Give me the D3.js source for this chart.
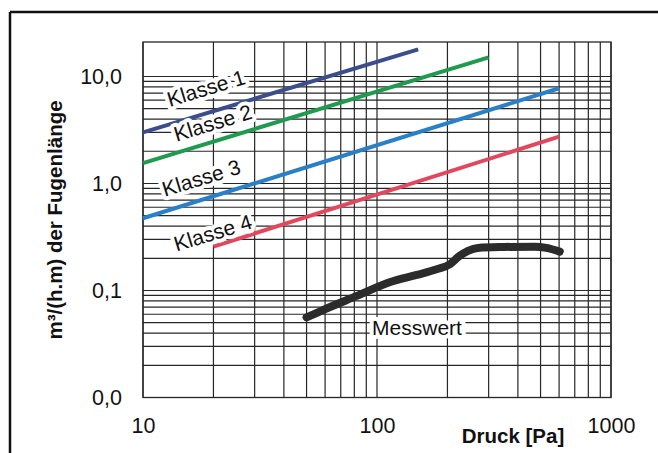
<!DOCTYPE html>
<html>
<head>
<meta charset="utf-8">
<script src="https://cdn.jsdelivr.net/npm/d3@7"></script>
<style>
  html, body { margin: 0; padding: 0; background: #fff; }
  svg { display: block; font-family: "Liberation Sans", Arial, sans-serif; }
</style>
</head>
<body>
<svg id="chart" width="658" height="453"></svg>
<script>
// ---- data ----
const xTickValues = [10, 100, 1000];
const xTickLabels = ["10", "100", "1000"];
const yTickValues = [0.01, 0.1, 1, 10];
const yTickLabels = ["0,0", "0,1", "1,0", "10,0"];

const klasse1 = [[10, 3.0], [150, 17.9]];
const klasse2 = [[10, 1.55], [300, 15.1]];
const klasse3 = [[10, 0.473], [600, 7.76]];
const klasse4 = [[20, 0.257], [600, 2.74]];
const messwert = [[50, 0.056], [59, 0.066], [82, 0.089], [114, 0.12], [148, 0.14], [180, 0.158],
                  [205, 0.176], [225, 0.21], [245, 0.235], [270, 0.25], [350, 0.255],
                  [470, 0.257], [530, 0.25], [604, 0.231]];

const seriesNames = ["Klasse 1", "Klasse 2", "Klasse 3", "Klasse 4"];
const seriesColors = ["#3c4d8c", "#1f9a4e", "#2a80c6", "#e2485d"];
// label anchor (start of baseline) in data units
const labelAnchors = [[13.0, 5.19], [13.9, 2.46], [12.4, 0.753], [13.9, 0.231]];
const messwertLabel = [95.3, 0.0384];
const xTitle = "Druck [Pa]";
const yTitle = "m³/(h.m) der Fugenlänge";

// ---- layout ----
const svg = d3.select("#chart");
const x = d3.scaleLog().domain([10, 1000]).range([143, 611]);
const y = d3.scaleLog().domain([0.01, 21]).range([397.5, 42]);

// outer frame (top and left only)
svg.append("line").attr("x1", 10).attr("x2", 658).attr("y1", 12).attr("y2", 12)
  .attr("stroke", "#111").attr("stroke-width", 2.5);
svg.append("line").attr("x1", 10).attr("x2", 10).attr("y1", 12).attr("y2", 453)
  .attr("stroke", "#111").attr("stroke-width", 2.5);

// grid
const xGrid = [];
for (let d = 10; d < 1000; d *= 10) for (let k = 1; k <= 9; k++) xGrid.push(d * k);
xGrid.push(1000);
const yGrid = [];
for (let d = 0.01; d < 10; d *= 10) for (let k = 1; k <= 9; k++) yGrid.push(+(d * k).toPrecision(3));
yGrid.push(10);

const grid = svg.append("g");
grid.selectAll(".vg").data(xGrid).enter().append("line")
  .attr("x1", d => x(d)).attr("x2", d => x(d))
  .attr("y1", y.range()[1]).attr("y2", y.range()[0])
  .attr("stroke", "#262626").attr("stroke-width", 1.2);
grid.selectAll(".hg").data(yGrid).enter().append("line")
  .attr("x1", x.range()[0]).attr("x2", x.range()[1])
  .attr("y1", d => y(d)).attr("y2", d => y(d))
  .attr("stroke", "#262626").attr("stroke-width", 1.2);
grid.append("rect").attr("x", 143).attr("y", y.range()[1])
  .attr("width", x.range()[1] - x.range()[0]).attr("height", y.range()[0] - y.range()[1])
  .attr("fill", "none").attr("stroke", "#262626").attr("stroke-width", 1.3);

// axes (labels only, via d3 axes)
const yAxis = d3.axisLeft(y).tickValues(yTickValues).tickFormat((d, i) => yTickLabels[i]).tickSize(0).tickPadding(21);
const gy = svg.append("g").attr("transform", "translate(143,0)").call(yAxis);
gy.select(".domain").remove();
gy.selectAll("text").attr("font-size", 21.5).attr("fill", "#111")
  .attr("font-family", "'Liberation Sans', Arial, sans-serif");

const xAxis = d3.axisBottom(x).tickValues(xTickValues).tickFormat((d, i) => xTickLabels[i]).tickSize(0).tickPadding(20);
const gx = svg.append("g").attr("transform", "translate(0,397.5)").call(xAxis);
gx.select(".domain").remove();
gx.selectAll("text").attr("font-size", 21.5).attr("fill", "#111")
  .attr("font-family", "'Liberation Sans', Arial, sans-serif");

// label text with white halo
function haloText(sel) {
  return sel.attr("paint-order", "stroke").attr("stroke", "#fff").attr("stroke-width", 8)
    .attr("stroke-linejoin", "round");
}

// class lines
const line = d3.line().x(d => x(d[0])).y(d => y(d[1]));
[klasse1, klasse2, klasse3, klasse4].forEach((s, i) => {
  svg.append("path").datum(s).attr("d", line).attr("fill", "none")
    .attr("stroke", seriesColors[i]).attr("stroke-width", 4).attr("stroke-linecap", "butt");
});

// class labels, rotated along the lines
const ang = Math.atan2(y(10) - y(1), (x(100) - x(10)) / (2 / 3)) * 180 / Math.PI;
seriesNames.forEach((n, i) => {
  const px = x(labelAnchors[i][0]), py = y(labelAnchors[i][1]);
  haloText(svg.append("text").text(n)
    .attr("transform", `translate(${px},${py}) rotate(${ang})`)
    .attr("font-size", 21).attr("fill", "#111"));
});

// measured curve
const mline = d3.line().x(d => x(d[0])).y(d => y(d[1])).curve(d3.curveMonotoneX);
svg.append("path").datum(messwert).attr("d", mline).attr("fill", "none")
  .attr("stroke", "#2b2b2b").attr("stroke-width", 8).attr("stroke-linecap", "round")
  .attr("stroke-linejoin", "round");
haloText(svg.append("text").text("Messwert").attr("x", x(messwertLabel[0])).attr("y", y(messwertLabel[1]))
  .attr("font-size", 21).attr("fill", "#111"));

// axis titles
svg.append("text").text(xTitle).attr("x", 513).attr("y", 443).attr("text-anchor", "middle")
  .attr("font-size", 20.5).attr("font-weight", "bold").attr("fill", "#111");
svg.append("text").text(yTitle)
  .attr("transform", "translate(62,220) rotate(-90)").attr("text-anchor", "middle")
  .attr("font-size", 20.5).attr("font-weight", "bold").attr("fill", "#111");
</script>
</body>
</html>
